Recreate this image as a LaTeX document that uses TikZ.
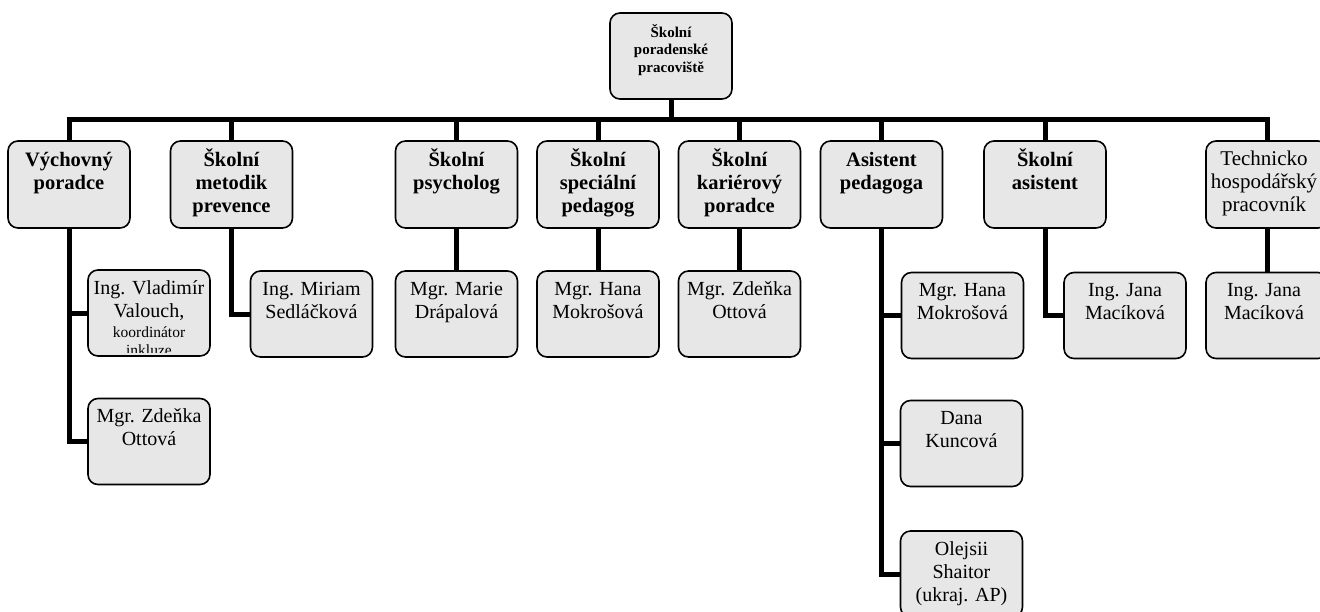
\documentclass[tikz,border=0pt]{standalone}
\usepackage{fontspec}
\setmainfont{Liberation Serif}
\definecolor{boxfill}{gray}{0.905}
\newcommand\headtxt[1]{\parbox[c][86pt][t]{122pt}{\centering\fontsize{15}{17.5}\selectfont\bfseries\rule{0pt}{24pt}#1}}
\newcommand\roletxt[1]{\parbox[c][87pt][t]{122pt}{\centering\fontsize{20.5}{23}\selectfont\bfseries\rule{0pt}{25pt}#1}}
\newcommand\roleplain[1]{\parbox[c][87pt][t]{122pt}{\centering\fontsize{21}{23}\selectfont\rule{0pt}{24pt}#1}}
\newcommand\persontxt[1]{\parbox[c][86pt][t]{122pt}{\centering\fontsize{20}{23}\selectfont\rule{0pt}{24pt}#1}}
\begin{document}
\begin{tikzpicture}[x=1pt,y=-1pt,
  bx/.style={draw, line width=1.6pt, rounded corners=10pt, fill=boxfill, inner sep=0pt, outer sep=0pt},
  conn/.style={line width=5pt, line join=miter}]
\useasboundingbox (0,0) rectangle (1320,611);
\coordinate (bar) at (0,119.5);
% top
\node[bx] (top) at (671,56) {\headtxt{Školní\\poradenské\\pracoviště}};
% level 1
\node[bx] (A) at (69,184.5) {\roletxt{Výchovný\\poradce}};
\node[bx] (B) at (231.5,184.5) {\roletxt{Školní\\metodik\\prevence}};
\node[bx] (C) at (456.5,184.5) {\roletxt{Školní\\psycholog}};
\node[bx] (D) at (598,184.5) {\roletxt{Školní\\speciální\\pedagog}};
\node[bx] (E) at (739.5,184.5) {\roletxt{Školní\\kariérový\\poradce}};
\node[bx] (F) at (881.5,184.5) {\roletxt{Asistent\\pedagoga}};
\node[bx] (G) at (1045,184.5) {\roletxt{Školní\\asistent}};
\node[bx] (H) at (1267,184.5) {\roleplain{\hspace*{-6pt}Technicko\\\hspace*{-6pt}hospodářský\\\hspace*{-6pt}pracovník}};
% level 2
\node[bx] (A1) at (149,313) {\persontxt{Ing. Vladimír\\Valouch,\par\fontsize{15.5}{20}\selectfont koordinátor}};
\node[bx] (A2) at (149,441.5) {\persontxt{Mgr. Zdeňka\\Ottová}};
\node[bx] (B1) at (311.5,314) {\persontxt{Ing. Miriam\\Sedláčková}};
\node[bx] (C1) at (456.5,314) {\persontxt{Mgr. Marie\\Drápalová}};
\node[bx] (D1) at (598,314) {\persontxt{Mgr. Hana\\Mokrošová}};
\node[bx] (E1) at (739.5,314) {\persontxt{Mgr. Zdeňka\\Ottová}};
\node[bx] (F1) at (962.5,315.5) {\persontxt{Mgr. Hana\\Mokrošová}};
\node[bx] (F2) at (961.5,443.5) {\persontxt{Dana\\Kuncová}};
\node[bx] (F3) at (961.5,574) {\persontxt{Olejsii\\Shaitor\\(ukraj. AP)}};
\node[bx] (G1) at (1125,315.5) {\persontxt{Ing. Jana\\Macíková}};
\node[bx] (H1) at (1267,315.5) {\persontxt{\hspace*{-6pt}Ing. Jana\\\hspace*{-6pt}Macíková}};
% clipped last line of A1
\begin{scope}
  \clip (A1.north west) rectangle ([yshift=4pt]A1.south east);
  \node[anchor=base, inner sep=0pt, font=\fontsize{15.5}{20}\selectfont] (inkl) at (A1.center |- 0,355) {inkluze};
\end{scope}
% connectors
\draw[conn] (top.south) -- (top.south |- bar);
\draw[conn] (A.north) -- (A.north |- bar) -- (H.north |- bar) -- (H.north);
\foreach \n in {B,C,D,E,F,G} { \draw[conn] (\n.north) -- (\n.north |- bar); }
\draw[conn] (A.south) |- (A2.west);
\draw[conn] (A.south |- A1.west) -- (A1.west);
\draw[conn] (B.south) |- (B1.west);
\draw[conn] (C.south) -- (C1.north);
\draw[conn] (D.south) -- (D1.north);
\draw[conn] (E.south) -- (E1.north);
\draw[conn] (F.south) |- (F3.west);
\draw[conn] (F.south |- F1.west) -- (F1.west);
\draw[conn] (F.south |- F2.west) -- (F2.west);
\draw[conn] (G.south) |- (G1.west);
\draw[conn] (H.south) -- (H1.north);
\end{tikzpicture}
\end{document}
